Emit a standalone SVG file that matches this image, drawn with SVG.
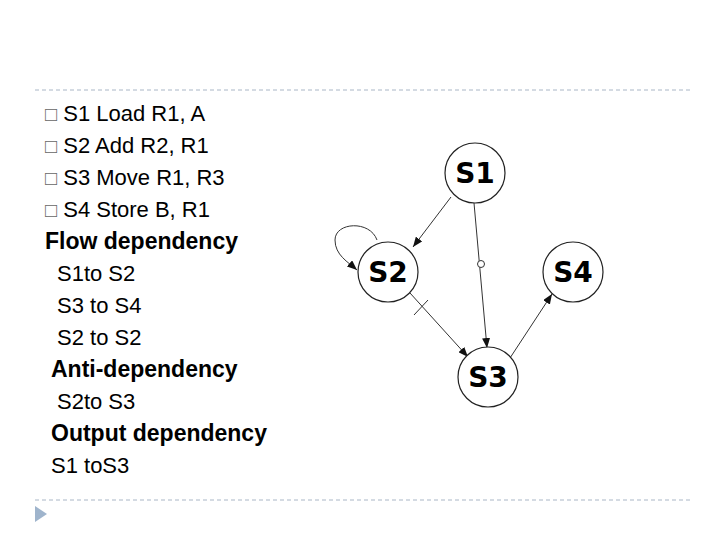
<svg xmlns="http://www.w3.org/2000/svg" width="720" height="540" viewBox="0 0 720 540">
<style>
text{font-family:"Liberation Sans",Arial,sans-serif;font-size:22px;fill:#000}
.b{font-weight:bold;font-size:23px}
.bul{fill:#666;font-size:20px}
.dash{stroke:#a9b6c6;stroke-width:1;stroke-dasharray:4,3}
.node circle{fill:#fff;stroke:#222;stroke-width:1.2}
.node text{font-family:"DejaVu Sans",sans-serif;font-weight:bold;font-size:28px;text-anchor:middle}
.e{stroke:#333;stroke-width:1;fill:none}
</style>
<defs><marker id="a" markerWidth="10" markerHeight="8" refX="10" refY="4" orient="auto" markerUnits="userSpaceOnUse"><path d="M0,0L10,4L0,8z" fill="#111"/></marker></defs>
<rect width="720" height="540" fill="#fff"/>
<line class="dash" x1="35" y1="90" x2="690" y2="90"/>
<line class="dash" x1="35" y1="500" x2="690" y2="500"/>
<path d="M35,506L47,514L35,522z" fill="#9fb4cc"/>
<g id="text">
<text x="45" y="121"><tspan class="bul">□</tspan> S1 Load R1, A</text>
<text x="45" y="153"><tspan class="bul">□</tspan> S2 Add R2, R1</text>
<text x="45" y="185"><tspan class="bul">□</tspan> S3 Move R1, R3</text>
<text x="45" y="217"><tspan class="bul">□</tspan> S4 Store B, R1</text>
<text class="b" x="45" y="249">Flow dependency</text>
<text x="57" y="281">S1to S2</text>
<text x="57" y="313">S3 to S4</text>
<text x="57" y="345">S2 to S2</text>
<text class="b" x="51" y="377">Anti-dependency</text>
<text x="57" y="409">S2to S3</text>
<text class="b" x="51" y="441">Output dependency</text>
<text x="51" y="473">S1 toS3</text>
</g>
<g id="connectors">
<line class="e" x1="451" y1="197" x2="413" y2="247" marker-end="url(#a)"/>
<line class="e" x1="474" y1="203" x2="487" y2="348" marker-end="url(#a)"/>
<circle cx="481" cy="264" r="3.5" fill="#fff" stroke="#333"/>
<line class="e" x1="410" y1="293" x2="468" y2="357" marker-end="url(#a)"/>
<line class="e" x1="414" y1="315" x2="428" y2="300"/>
<line class="e" x1="510" y1="358" x2="552" y2="294" marker-end="url(#a)"/>
<path class="e" d="M377,240C370,220 335,222 335,240C335,255 348,262 357,270" marker-end="url(#a)"/>
</g>
<g id="S1" class="node"><circle cx="475" cy="173" r="30"/><text x="475" y="183">S1</text></g>
<g id="S2" class="node"><circle cx="388" cy="272" r="30"/><text x="388" y="282">S2</text></g>
<g id="S4" class="node"><circle cx="573" cy="272" r="30"/><text x="573" y="282">S4</text></g>
<g id="S3" class="node"><circle cx="488" cy="377" r="30"/><text x="488" y="387">S3</text></g>
</svg>
